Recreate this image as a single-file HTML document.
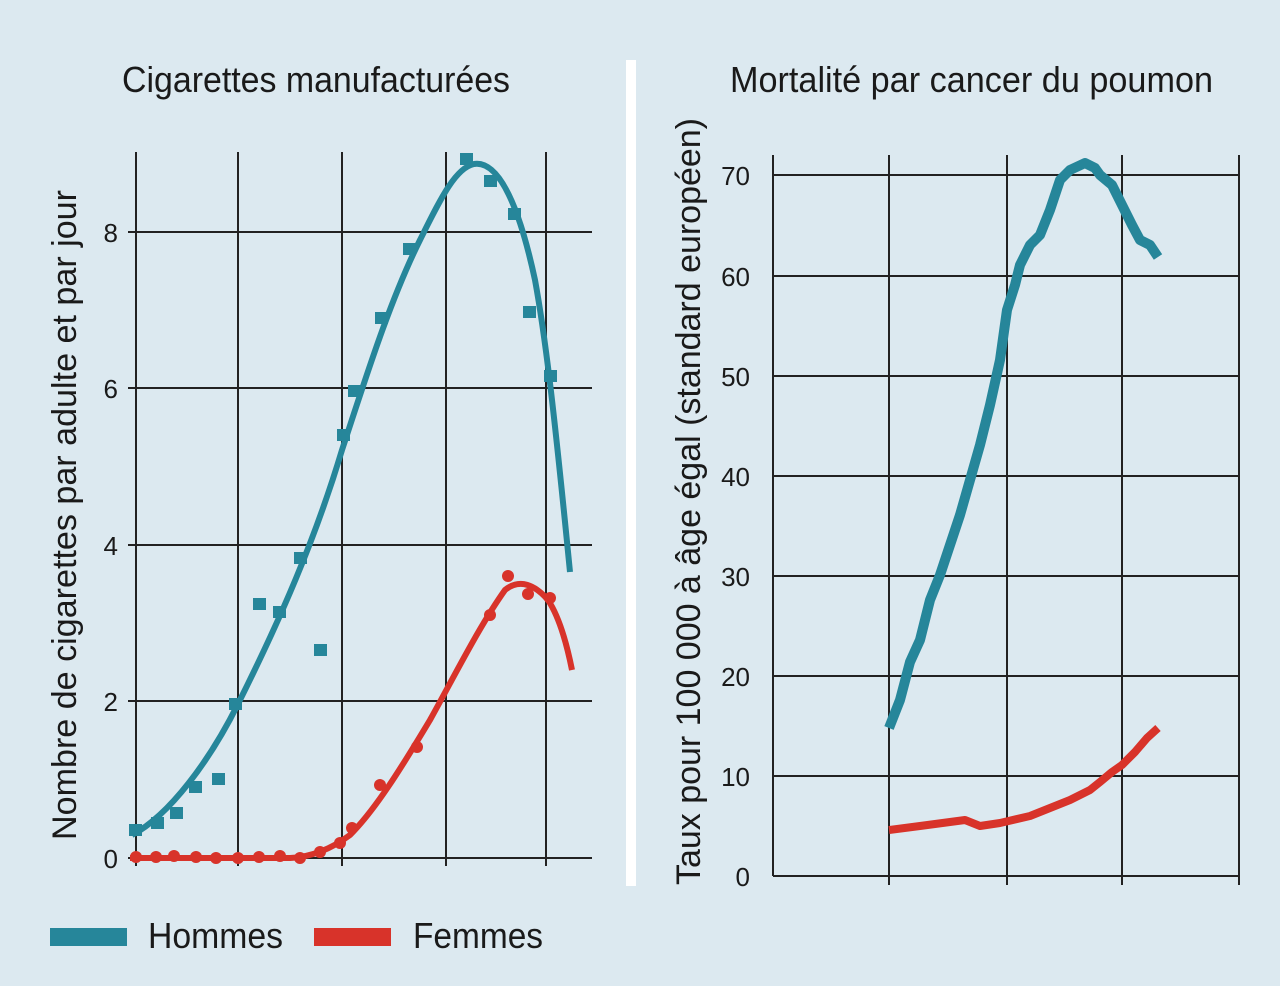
<!DOCTYPE html>
<html><head><meta charset="utf-8"><style>
html,body{margin:0;padding:0;background:#dce9f0;}
svg{display:block}
text{font-family:"Liberation Sans Narrow","Liberation Sans",sans-serif;fill:#1a1a1a}
</style></head><body>
<svg width="1280" height="986" viewBox="0 0 1280 986" xmlns="http://www.w3.org/2000/svg">
<rect width="1280" height="986" fill="#dce9f0"/>
<rect x="626" y="60" width="10" height="826" fill="#ffffff"/>
<text x="122" y="92" font-size="36" textLength="388" lengthAdjust="spacingAndGlyphs">Cigarettes manufacturées</text>
<text x="730" y="92" font-size="36" textLength="483" lengthAdjust="spacingAndGlyphs">Mortalité par cancer du poumon</text>
<!-- left grid -->
<g stroke="#222" stroke-width="2">
<line x1="128" y1="858" x2="592" y2="858"/><line x1="128" y1="701" x2="592" y2="701"/>
<line x1="128" y1="545" x2="592" y2="545"/><line x1="128" y1="388" x2="592" y2="388"/>
<line x1="128" y1="232" x2="592" y2="232"/>
<line x1="136" y1="152" x2="136" y2="866"/><line x1="238" y1="152" x2="238" y2="866"/>
<line x1="342" y1="152" x2="342" y2="866"/><line x1="446" y1="152" x2="446" y2="866"/>
<line x1="546" y1="152" x2="546" y2="866"/>
</g>
<g font-size="26" text-anchor="end">
<text x="118" y="868">0</text><text x="118" y="711">2</text><text x="118" y="555">4</text><text x="118" y="398">6</text><text x="118" y="242">8</text>
</g>
<text transform="translate(76,840) rotate(-90)" font-size="34" textLength="650" lengthAdjust="spacingAndGlyphs">Nombre de cigarettes par adulte et par jour</text>
<!-- right grid -->
<g stroke="#222" stroke-width="2">
<line x1="773" y1="876" x2="1240" y2="876"/><line x1="773" y1="776" x2="1240" y2="776"/>
<line x1="773" y1="676" x2="1240" y2="676"/><line x1="773" y1="576" x2="1240" y2="576"/>
<line x1="773" y1="476" x2="1240" y2="476"/><line x1="773" y1="376" x2="1240" y2="376"/>
<line x1="773" y1="276" x2="1240" y2="276"/><line x1="773" y1="175" x2="1240" y2="175"/>
<line x1="773" y1="155" x2="773" y2="876"/><line x1="889" y1="155" x2="889" y2="885"/>
<line x1="1007" y1="155" x2="1007" y2="885"/><line x1="1122" y1="155" x2="1122" y2="885"/>
<line x1="1239" y1="155" x2="1239" y2="885"/>
</g>
<g font-size="26" text-anchor="end">
<text x="750" y="886">0</text><text x="750" y="786">10</text><text x="750" y="686">20</text><text x="750" y="586">30</text><text x="750" y="486">40</text><text x="750" y="386">50</text><text x="750" y="286">60</text><text x="750" y="185">70</text>
</g>
<text transform="translate(700,885) rotate(-90)" font-size="34" textLength="767" lengthAdjust="spacingAndGlyphs">Taux pour 100 000 à âge égal (standard européen)</text>
<!-- left men -->
<path d="M132,835 C170,815 210,760 238,704 C280,620 315,540 342,450 C365,380 390,300 420,240 C440,200 455,168 474,164 C500,160 520,210 535,280 C546,340 555,420 570,572" fill="none" stroke="#26869a" stroke-width="6"/>
<g fill="#26869a">
<rect x="129" y="824" width="13" height="12"/><rect x="151" y="817" width="13" height="12"/><rect x="170" y="807" width="13" height="12"/><rect x="189" y="781" width="13" height="12"/><rect x="212" y="773" width="13" height="12"/><rect x="229" y="698" width="13" height="12"/><rect x="253" y="598" width="13" height="12"/><rect x="273" y="606" width="13" height="12"/><rect x="294" y="552" width="13" height="12"/><rect x="314" y="644" width="13" height="12"/><rect x="337" y="429" width="13" height="12"/><rect x="348" y="385" width="13" height="12"/><rect x="375" y="312" width="13" height="12"/><rect x="403" y="243" width="13" height="12"/><rect x="460" y="153" width="13" height="12"/><rect x="484" y="175" width="13" height="12"/><rect x="508" y="208" width="13" height="12"/><rect x="523" y="306" width="13" height="12"/><rect x="544" y="370" width="13" height="12"/>
</g>
<!-- left women -->
<path d="M130,858 L290,858 C310,857 330,850 350,835 C375,810 400,770 430,720 C455,675 480,625 505,590 C520,578 535,585 548,600 C558,615 566,640 572,670" fill="none" stroke="#d8332a" stroke-width="6"/>
<g fill="#d8332a">
<circle cx="136" cy="857" r="6"/><circle cx="156" cy="857" r="6"/><circle cx="174" cy="856" r="6"/><circle cx="196" cy="857" r="6"/><circle cx="216" cy="858" r="6"/><circle cx="238" cy="858" r="6"/><circle cx="259" cy="857" r="6"/><circle cx="280" cy="856" r="6"/><circle cx="300" cy="858" r="6"/><circle cx="320" cy="852" r="6"/><circle cx="340" cy="843" r="6"/><circle cx="352" cy="828" r="6"/><circle cx="380" cy="785" r="6"/><circle cx="417" cy="747" r="6"/><circle cx="490" cy="615" r="6"/><circle cx="508" cy="576" r="6"/><circle cx="528" cy="594" r="6"/><circle cx="550" cy="598" r="6"/>
</g>
<!-- right men -->
<polyline points="889,728 900,700 910,662 920,640 930,600 940,575 950,545 960,515 970,480 980,445 990,405 1000,360 1007,310 1015,285 1020,265 1030,245 1040,235 1050,210 1060,180 1070,170 1085,163 1095,168 1100,175 1112,185 1122,205 1132,225 1140,240 1150,245 1158,257" fill="none" stroke="#26869a" stroke-width="10" stroke-linejoin="round"/>
<!-- right women -->
<polyline points="889,830 920,826 950,822 965,820 980,826 1000,823 1030,816 1050,808 1070,800 1090,790 1100,782 1112,772 1122,765 1135,752 1147,738 1158,728" fill="none" stroke="#d8332a" stroke-width="8" stroke-linejoin="round"/>
<!-- legend -->
<rect x="50" y="928" width="77" height="18" fill="#26869a"/>
<text x="148" y="948" font-size="36" textLength="135" lengthAdjust="spacingAndGlyphs">Hommes</text>
<rect x="314" y="928" width="77" height="18" fill="#d8332a"/>
<text x="413" y="948" font-size="36" textLength="130" lengthAdjust="spacingAndGlyphs">Femmes</text>
</svg>
</body></html>
